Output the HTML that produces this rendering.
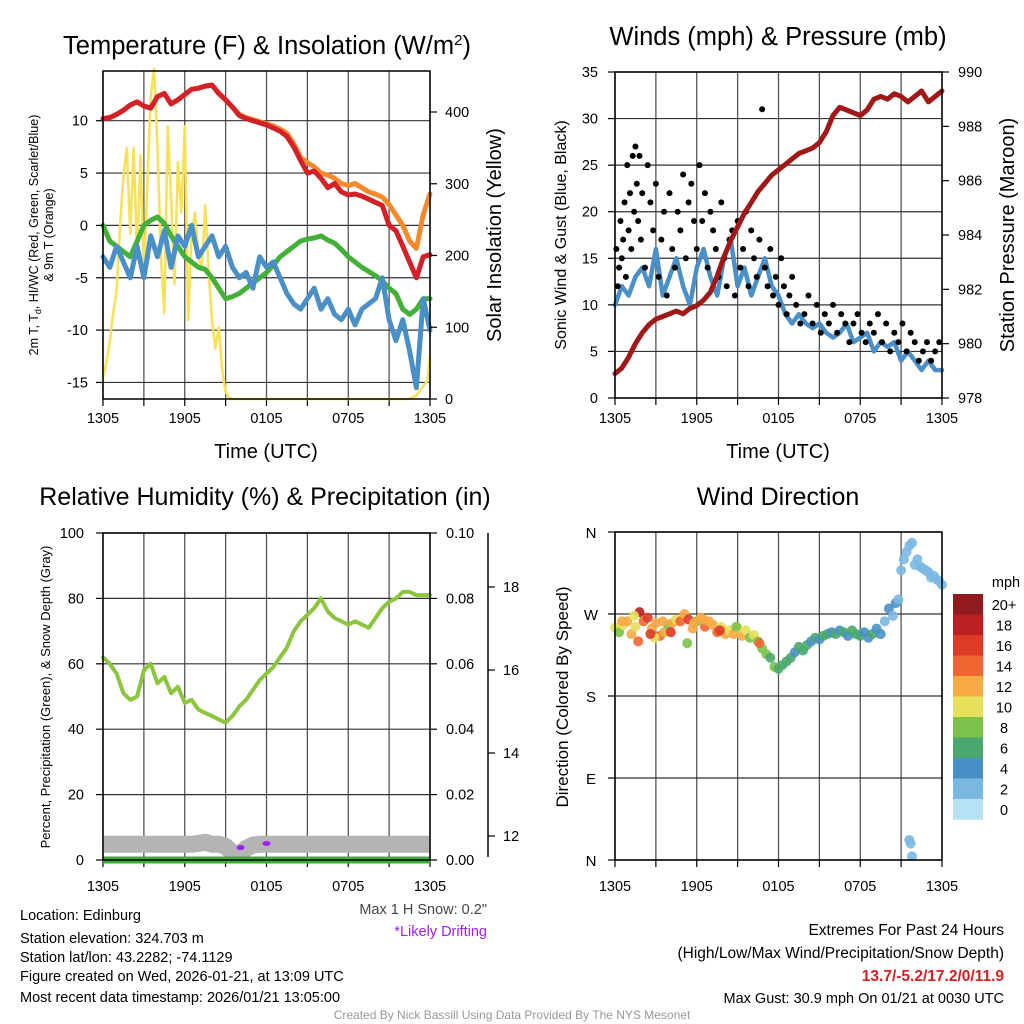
<!DOCTYPE html>
<html><head><meta charset="utf-8"><style>
body{margin:0;background:#fff}
svg{display:block;font-family:"Liberation Sans",sans-serif}
</style></head><body>
<svg id="c" width="1024" height="1024" viewBox="0 0 1024 1024">
<rect width="1024" height="1024" fill="#fff"/>
<text x="267" y="54" font-size="25.5" text-anchor="middle">Temperature (F) &amp; Insolation (W/m<tspan dy="-9" font-size="15">2</tspan><tspan dy="9">)</tspan></text>
<text x="778" y="45" font-size="25.5" text-anchor="middle">Winds (mph) &amp; Pressure (mb)</text>
<text x="265" y="505" font-size="25" text-anchor="middle">Relative Humidity (%) &amp; Precipitation (in)</text>
<text x="778" y="505" font-size="25" text-anchor="middle">Wind Direction</text>
<text x="266" y="458" font-size="20" text-anchor="middle">Time (UTC)</text>
<text x="778" y="458" font-size="20" text-anchor="middle">Time (UTC)</text>
<text transform="translate(38,235) rotate(-90)" font-size="12.5" text-anchor="middle">2m T, T<tspan font-size="9" dy="3">d</tspan><tspan dy="-3">, HI/WC (Red, Green, Scarlet/Blue)</tspan></text>
<text transform="translate(53,235) rotate(-90)" font-size="12.5" text-anchor="middle">&amp; 9m T (Orange)</text>
<text transform="translate(501,235) rotate(-90)" font-size="20" text-anchor="middle">Solar Insolation (Yellow)</text>
<text transform="translate(566,235) rotate(-90)" font-size="16" text-anchor="middle">Sonic Wind &amp; Gust (Blue, Black)</text>
<text transform="translate(1014,235) rotate(-90)" font-size="20" text-anchor="middle">Station Pressure (Maroon)</text>
<text transform="translate(50,697) rotate(-90)" font-size="13" text-anchor="middle">Percent, Precipitation (Green), &amp; Snow Depth (Gray)</text>
<text transform="translate(568,697) rotate(-90)" font-size="17" text-anchor="middle">Direction (Colored By Speed)</text>
<text x="487" y="914" font-size="14.5" fill="#444" text-anchor="end">Max 1 H Snow: 0.2"</text>
<text x="487" y="936" font-size="14.5" fill="#a020f0" text-anchor="end">*Likely Drifting</text>
<g font-size="14.5">
<text x="20" y="920">Location: Edinburg</text>
<text x="20" y="943">Station elevation: 324.703 m</text>
<text x="20" y="962">Station lat/lon: 43.2282; -74.1129</text>
<text x="20" y="981">Figure created on Wed, 2026-01-21, at 13:09 UTC</text>
<text x="20" y="1002">Most recent data timestamp: 2026/01/21 13:05:00</text>
</g>
<g font-size="15.5" text-anchor="end">
<text x="1004" y="935">Extremes For Past 24 Hours</text>
<text x="1004" y="958">(High/Low/Max Wind/Precipitation/Snow Depth)</text>
<text x="1004" y="981" font-weight="bold" fill="#d42020">13.7/-5.2/17.2/0/11.9</text>
<text x="1004" y="1003" font-size="14.5">Max Gust: 30.9 mph On 01/21 at 0030 UTC</text>
</g>
<text x="512" y="1019" font-size="12" fill="#999" text-anchor="middle">Created By Nick Bassill Using Data Provided By The NYS Mesonet</text>
</svg>
<script>
// ---- data (hours since 1305 UTC) ----
const hours = [0,0.5,1,1.5,2,2.5,3,3.5,4,4.5,5,5.5,6,6.5,7,7.5,8,8.5,9,9.5,10,10.5,11,11.5,12,12.5,13,13.5,14,14.5,15,15.5,16,16.5,17,17.5,18,18.5,19,19.5,20,20.5,21,21.5,22,22.5,23,23.5,24];
const tempRed = [10.2,10.3,10.6,11,11.5,11.8,11.4,11.2,12.3,12.6,11.6,12,12.5,13,13.1,13.3,13.4,12.6,12,11.3,10.5,10.2,10,9.8,9.6,9.3,9,8.5,7.5,6.2,5,5.2,4.5,3.6,4,3.2,2.9,3,2.8,2.5,2.2,1.9,0,-0.5,-2,-3.5,-5,-3,-2.8];
const temp9m = [10.2,10.3,10.6,11,11.5,11.8,11.4,11.2,12.3,12.6,11.6,12,12.5,13,13.1,13.3,13.4,12.6,12,11.3,10.6,10.3,10.1,9.9,9.7,9.5,9.2,8.8,7.8,6.5,6,5.6,5,4.8,4.5,4,3.8,4,3.6,3.2,3,2.7,2,1,0,-1.5,-2.2,1,3];
const dewGreen = [0,-1.5,-2,-2.5,-3,-1.5,0,0.5,0.8,0.2,-1,-2,-3,-3.5,-4,-4.2,-5,-6,-7,-6.8,-6.5,-6,-5.5,-5,-4.5,-3.8,-3,-2.5,-2,-1.5,-1.3,-1.2,-1,-1.4,-1.7,-2.3,-3,-3.5,-4,-4.4,-4.8,-5.3,-6,-6.5,-8,-8.5,-8,-7,-7];
const chillBlue = [-3,-4,-2,-3.5,-5,-2,-5,-1,-3,-0.5,-4,-1,-2,0,-3,-2,-1,-3,-2,-4,-5,-4.5,-6,-3,-4,-3.5,-5,-6.5,-7.5,-8,-7,-6,-8,-7,-8.5,-9,-8,-9.5,-8,-7.5,-7,-5,-9,-11,-9,-12,-15.5,-7,-10];
const insolTimes = [0,0.25,0.5,0.75,1,1.25,1.5,1.75,2,2.25,2.5,2.75,3,3.25,3.5,3.75,4,4.25,4.5,4.75,5,5.25,5.5,5.75,6,6.25,6.5,6.75,7,7.25,7.5,7.75,8,8.25,8.5,8.75,9,9.25,9.5,22.5,23,23.5,23.8,24];
const insolValues = [30,50,80,120,150,240,310,350,230,350,200,340,170,300,420,460,350,200,120,380,280,160,330,260,380,110,230,260,200,180,270,180,110,70,100,40,10,2,0,0,5,18,25,60];
const windBlue = [10,12,11,13,14,12,16,11,13,15,12,10,14,16,13,11,15,17,12,14,11,13,15,12,11,9,8,9,8,7.5,8,7,6.5,7,8,6,6.5,7,5,6,5.5,6,4,5,4,3,4,3,3];
const pressure = [978.9,979.1,979.5,980,980.4,980.7,980.9,981,981.1,981.2,981.1,981.3,981.4,981.6,981.9,982.5,983.2,983.8,984.3,984.8,985.2,985.6,985.9,986.2,986.4,986.6,986.8,987,987.1,987.2,987.4,987.8,988.4,988.7,988.6,988.5,988.4,988.6,989,989.1,989,989.2,989.1,988.9,989.1,989.3,988.9,989.1,989.3];
const gustTimes = [0.1,0.2,0.3,0.4,0.5,0.6,0.7,0.8,0.9,1,1.1,1.2,1.3,1.4,1.5,1.6,1.7,1.8,1.9,2,2.2,2.4,2.6,2.8,3,3.2,3.4,3.6,3.8,4,4.2,4.4,4.6,4.8,5,5.2,5.4,5.6,5.8,6,6.2,6.4,6.6,6.8,7,7.2,7.4,7.6,7.8,8,8.2,8.4,8.6,8.8,9,9.2,9.4,9.6,9.8,10,10.2,10.4,10.6,10.8,11,11.2,11.4,11.6,11.8,12,12.2,12.4,12.6,12.8,13,13.3,13.6,13.9,14.2,14.5,14.8,15.1,15.4,15.7,16,16.3,16.6,16.9,17.2,17.5,17.8,18.1,18.4,18.7,19,19.3,19.6,19.9,20.2,20.5,20.8,21.1,21.4,21.7,22,22.3,22.6,22.9,23.2,23.5,23.8];
const gustValues = [16,12,14,19,15,17,21,13,25,18,22,16,26,20,27,23,19,26,17,22,14,25,21,18,23,13,17,20,11,22,16,14,20,18,24,15,21,23,19,16,25,19,22,14,20,18,16,13,21,15,12,17,18,11,19,14,16,20,12,18,15,13,17,31,14,12,16,11,13,10,15,12,9,11,13,10,8,9,11,8,10,7,9,8,10,7,9,8,6,8,9,7,6,8,7,9,6,8,5,7,6,8,5,7,6,4,5,6,4,5,6];
const rhValues = [62,60,57,51,49,50,58,60,54,56,51,53,48,49,46,45,44,43,42,44,47,49,52,55,57,59,62,65,70,73,75,77,80,76,74,73,72,73,72,71,74,77,79,80,82,82,81,81,81];
const precipValues = [0,0,0,0,0,0,0,0,0,0,0,0,0,0,0,0,0,0,0,0,0,0,0,0,0,0,0,0,0,0,0,0,0,0,0,0,0,0,0,0,0,0,0,0,0,0,0,0,0];
const snowDepth = [11.8,11.8,11.8,11.8,11.8,11.8,11.8,11.8,11.8,11.8,11.8,11.8,11.8,11.8,11.82,11.85,11.8,11.8,11.75,11.6,11.55,11.7,11.78,11.8,11.8,11.8,11.8,11.8,11.8,11.8,11.8,11.8,11.8,11.8,11.8,11.8,11.8,11.8,11.8,11.8,11.8,11.8,11.8,11.8,11.8,11.8,11.8,11.8,11.8];
const driftTimes = [10.1,12];
const driftValues = [11.72,11.82];
const dirTimes = [0,0.3,0.6,0.9,1.2,1.5,1.8,2.1,2.4,2.7,3,3.3,3.6,3.9,4.2,4.5,4.8,5.1,5.4,5.7,6,6.3,6.6,6.9,7.2,7.5,7.8,8.1,8.4,8.7,9,9.3,9.6,9.9,10.2,10.5,10.8,11.1,11.4,11.7,12,12.3,12.6,12.9,13.2,13.5,13.8,14.1,14.4,14.7,15,15.3,15.6,15.9,16.2,16.5,16.8,17.1,17.4,17.7,18,18.3,18.6,18.9,19.2,19.5,19.8,20.1,20.4,20.6,20.8,21,21.2,21.4,21.6,21.8,22,22.2,22.4,22.6,22.8,23,23.2,23.4,23.6,23.8,24,21.6,21.7,21.8,0.5,1.7,2.9,4.1,5.3,6.5,7.7,8.9,1.4,3.5,5.8,10.6,2.6];
const dirValues = [255,250,258,262,248,256,272,262,266,254,260,246,250,258,260,264,262,270,264,254,262,266,256,262,258,250,256,248,252,248,255,246,252,244,247,240,232,226,222,212,210,214,218,222,228,234,230,236,240,244,242,246,248,250,248,252,250,246,252,248,246,250,244,248,254,248,262,276,268,282,286,318,330,338,345,348,324,330,322,320,318,316,310,312,308,306,302,22,18,4,262,240,244,250,238,264,252,256,268,262,260,238,248];
const dirSpeeds = [10,9,11,12,13,10,18,14,16,12,13,15,12,9,13,10,14,12,16,13,9,12,14,12,13,15,11,12,10,13,11,12,11,9,10,8,8,8,7,8,7,7,6,6,5,6,6,6,5,6,5,6,6,4,6,4,6,5,6,6,6,4,4,6,5,5,3,4,3,4,3,2,2,2,3,3,3,3,3,2,2,3,2,2,2,2,2,3,3,3,12,14,11,17,9,13,16,9,10,13,12,14,16];
const cbLabels = ['20+','18','16','14','12','10','8','6','4','2','0'];
const cbColors = ['#901a1e','#bd1e24','#dd3a27','#f06530','#f7a944','#e8e05a','#7cc24a','#4aa86e','#4a90c8','#7ab8e2','#b8e2f6'];
const timeTicks = ['1305','1905','0105','0705','1305'];
const tempTicks = [10,5,0,-5,-10,-15];
const insolTicks = [0,100,200,300,400];
const windTicks = [0,5,10,15,20,25,30,35];
const presTicks = [978,980,982,984,986,988,990];
const rhTicks = [0,20,40,60,80,100];
const precipTicks = ['0.00','0.02','0.04','0.06','0.08','0.10'];
const snowTicks = [12,14,16,18];
const dirTicks = ['N','W','S','E','N'];
const dirTickVals = [360,270,180,90,0];

const svg = document.getElementById('c');
const NS = 'http://www.w3.org/2000/svg';
function mk(tag, attrs, parent){const e=document.createElementNS(NS,tag);for(const k in attrs)e.setAttribute(k,attrs[k]);(parent||svg).appendChild(e);return e;}
function txt(x,y,s,size,anchor,parent){const e=mk('text',{x:x,y:y,'font-size':size,'text-anchor':anchor},parent);e.textContent=s;return e;}

const P1={l:103,r:430,t:71,b:399}, P2={l:615,r:942,t:72,b:398}, P3={l:103,r:430,t:533,b:860}, P4={l:615,r:942,t:532,b:860};
const xs=(P,t)=>P.l+t/24*(P.r-P.l);
const yT=v=>120.7-(v-10)*10.47;
const yS=w=>399-w*0.7175;
const yW=v=>398-v*(326/35);
const yP=p=>398-(p-978)*(326/12);
const yRH=v=>860-v*3.27;
const yPr=v=>860-v*3270;
const ySn=s=>836-(s-12)*41.5;
const yD=d=>860-d/360*328;

function grid(P,ys,name){
  const g=mk('g',{});
  
  
  for(let i=0;i<=8;i++){const x=P.l+i*(P.r-P.l)/8;mk('line',{x1:x,y1:P.t,x2:x,y2:P.b,stroke:'#555','stroke-width':1.3},g);mk('line',{x1:x,y1:P.b,x2:x,y2:P.b+7,stroke:'#000','stroke-width':1.2},g);}
  ys.forEach(y=>mk('line',{x1:P.l,y1:y,x2:P.r,y2:y,stroke:'#333','stroke-width':1.2},g));
}
function frame(P,name){const r=mk('rect',{x:P.l,y:P.t,width:P.r-P.l,height:P.b-P.t,fill:'none',stroke:'#000','stroke-width':1.5});}
function xlabels(P,y,name){const g=mk('g',{});timeTicks.forEach((s,i)=>txt(P.l+i*(P.r-P.l)/4,y,s,14.5,'middle',g));}
function line(P,xsArr,vals,yf,color,w,name,cap){
  const pts=xsArr.map((t,i)=>xs(P,t).toFixed(1)+','+yf(vals[i]).toFixed(1)).join(' ');
  const e=mk('polyline',{points:pts,fill:'none',stroke:color,'stroke-width':w,'stroke-linejoin':'round','stroke-linecap':cap||'round'});
  
  
}
function yticks(vals,labels,yf,x,anchor,tickX,dir,name){
  const g=mk('g',{});
  vals.forEach((v,i)=>{const y=yf(v);mk('line',{x1:tickX,y1:y,x2:tickX+dir*7,y2:y,stroke:'#000','stroke-width':1.2},g);txt(x,y+5,String(labels[i]),14.5,anchor,g);});
}

// Panel 1
grid(P1,tempTicks.map(yT),'temp');
line(P1,insolTimes,insolValues,yS,'#f7e15a',2.6,'insolation-line');
line(P1,hours,dewGreen,yT,'#44b03a',5,'dewpoint-line');
line(P1,hours,chillBlue,yT,'#4a8fc8',5,'windchill-line');
line(P1,hours,temp9m,yT,'#f58a2c',5,'temp-9m-line');
line(P1,hours,tempRed,yT,'#d42027',5,'temp-2m-line');
frame(P1,'temp');
yticks(tempTicks,tempTicks,yT,88,'end',P1.l,-1,'temp-y-ticks');
yticks(insolTicks,insolTicks,yS,445,'start',P1.r,1,'insolation-y-ticks');
xlabels(P1,423,'temp');

// Panel 2
grid(P2,windTicks.map(yW),'wind');
line(P2,hours,windBlue,yW,'#4a8fc8',4.5,'wind-speed-line');
const gg=mk('g',{});
gustTimes.forEach((t,i)=>{const c=mk('circle',{cx:xs(P2,t),cy:yW(gustValues[i]),r:3,fill:'#000'},gg);});
line(P2,hours,pressure,yP,'#a01818',5,'pressure-line');
frame(P2,'wind');
yticks(windTicks,windTicks,yW,598,'end',P2.l,-1,'wind-y-ticks');
yticks(presTicks,presTicks,yP,958,'start',P2.r,1,'pressure-y-ticks');
xlabels(P2,423,'wind');

// Panel 3
grid(P3,rhTicks.map(yRH),'rh');
line(P3,hours,snowDepth,ySn,'#b4b4b4',17,'snow-depth-line','butt');
const dg=mk('g',{});
driftTimes.forEach((t,i)=>{const e=mk('ellipse',{cx:xs(P3,t),cy:ySn(driftValues[i]),rx:4,ry:2.5,fill:'#a020f0'},dg);});
line(P3,hours,precipValues,yPr,'#3cab3c',7,'precip-line','butt');
line(P3,hours,rhValues,yRH,'#8cc63f',4,'rh-line');
frame(P3,'rh');
yticks(rhTicks,rhTicks,yRH,84,'end',P3.l,-1,'rh-y-ticks');
yticks(rhTicks,precipTicks,yRH,446,'start',P3.r,1,'precip-y-ticks');
mk('line',{x1:488,y1:533,x2:488,y2:857,stroke:'#000','stroke-width':1.5});
yticks(snowTicks,snowTicks,ySn,503,'start',488,1,'snow-y-ticks');
xlabels(P3,891,'rh');

// Panel 4
grid(P4,dirTickVals.map(yD),'dir');
const pg=mk('g',{});
dirTimes.forEach((t,i)=>{const b=Math.min(10,Math.floor(dirSpeeds[i]/2));const c=mk('circle',{cx:xs(P4,t),cy:yD(dirValues[i]),r:5,fill:cbColors[10-b],'fill-opacity':0.9},pg);});
frame(P4,'dir');
const dtg=mk('g',{});
dirTickVals.forEach((v,i)=>{const y=yD(v);mk('line',{x1:P4.l-7,y1:y,x2:P4.l,y2:y,stroke:'#000','stroke-width':1.2},dtg);txt(591,y+6,dirTicks[i],15,'middle',dtg);});
xlabels(P4,891,'dir');
const cb=mk('g',{});
txt(1006,587,'mph',14.5,'middle',cb);
cbColors.forEach((c,i)=>{const y=594+i*20.5;mk('rect',{x:953,y:y,width:30,height:20.8,fill:c},cb);txt(1004,y+16,cbLabels[i],14.5,'middle',cb);});
</script>
</body></html>
